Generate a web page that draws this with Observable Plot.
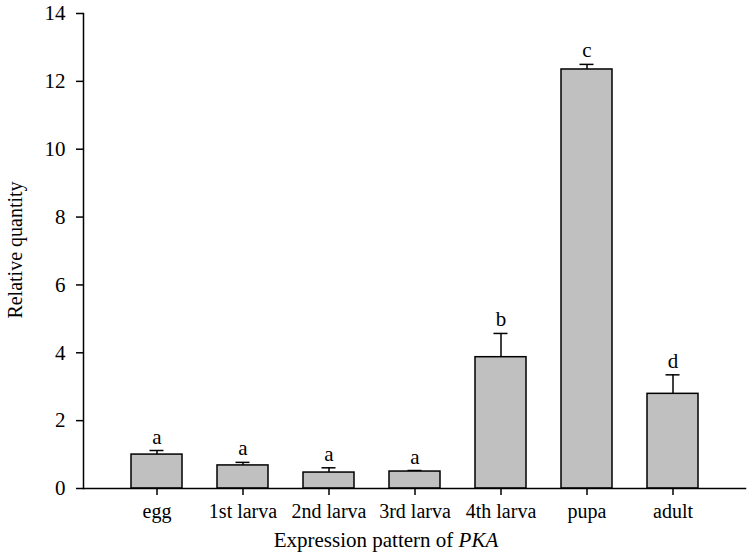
<!DOCTYPE html>
<html>
<head>
<meta charset="utf-8">
<script src="https://cdn.jsdelivr.net/npm/d3@7"></script>
<script src="https://cdn.jsdelivr.net/npm/@observablehq/plot@0.6"></script>
<style>
  body { margin: 0; background: #fff; }
  svg, svg text { font-family: "Liberation Serif", "Times New Roman", serif !important; }
</style>
</head>
<body>
<div id="chart"></div>
<script>
const stages = ["egg", "1st larva", "2nd larva", "3rd larva", "4th larva", "pupa", "adult"];
const means  = [1.00, 0.68, 0.47, 0.50, 3.87, 12.35, 2.79];
const errors = [0.12, 0.09, 0.14, 0.03, 0.70, 0.15, 0.56];
const letters = ["a", "a", "a", "a", "b", "c", "d"];
const yTicks = [0, 2, 4, 6, 8, 10, 12, 14];

const data = stages.map((s, i) => ({stage: s, mean: means[i], err: errors[i], top: means[i] + errors[i], letter: letters[i]}));

const serif = '"Liberation Serif", "Times New Roman", serif';

const plot = Plot.plot({
  width: 750,
  height: 554,
  marginLeft: 83,
  marginRight: 5,
  marginTop: 13,
  marginBottom: 66,
  style: {fontFamily: serif, fontSize: "20px", background: "#fff", color: "#000"},
  x: {domain: stages, paddingInner: 0.41, paddingOuter: 0.55, label: null},
  y: {domain: [0, 14], ticks: yTicks, label: null},
  marks: [
    Plot.ruleX(data, {x: "stage", y1: "mean", y2: "top", stroke: "#000", strokeWidth: 1.5}),
    Plot.tickY(data, {x: "stage", y: "top", stroke: "#000", strokeWidth: 1.5, insetLeft: 18.5, insetRight: 18.5}),
    Plot.barY(data, {x: "stage", y: "mean", fill: "#c0c0c0", stroke: "#000", strokeWidth: 1.5}),
    Plot.text(data, {x: "stage", y: "top", text: "letter", dy: -7, lineAnchor: "bottom", fontSize: 21, fontFamily: serif, fill: "#000"}),
    Plot.axisY({ticks: yTicks, tickSize: 7, tickPadding: 11, fontSize: 21, fontFamily: serif, stroke: "#000", strokeWidth: 1.5, label: null}),
    Plot.axisX({tickSize: 7, tickPadding: 8, fontSize: 20, fontFamily: serif, stroke: "#000", strokeWidth: 1.5, label: null}),
    Plot.frame({anchor: "left", stroke: "#000", strokeWidth: 1.5}),
    Plot.frame({anchor: "bottom", stroke: "#000", strokeWidth: 1.5})
  ]
});

const svg = d3.select(plot);
svg.append("text")
  .attr("transform", "translate(22,250) rotate(-90)")
  .attr("text-anchor", "middle")
  .attr("font-size", 20)
  .attr("font-family", serif)
  .attr("fill", "#000")
  .text("Relative quantity");
const xt = svg.append("text")
  .attr("x", 386)
  .attr("y", 547)
  .attr("text-anchor", "middle")
  .attr("font-size", 21)
  .attr("font-family", serif)
  .attr("fill", "#000");
xt.append("tspan").text("Expression pattern of ");
xt.append("tspan").attr("font-style", "italic").text("PKA");

document.getElementById("chart").appendChild(plot);
</script>
</body>
</html>
